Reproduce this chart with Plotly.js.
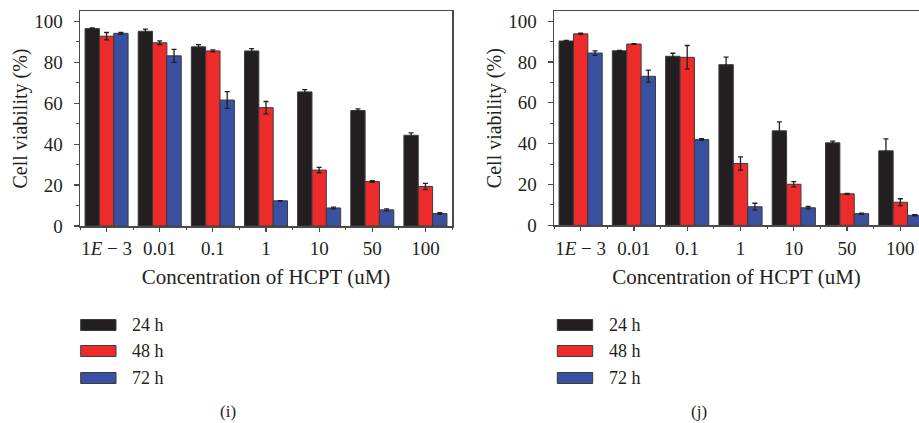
<!DOCTYPE html>
<html>
<head>
<meta charset="utf-8">
<script src="https://cdn.plot.ly/plotly-3.0.1.min.js"></script>
<style>html,body{margin:0;padding:0;background:#fff;}#chart{width:919px;height:423px;}</style>
</head>
<body>
<div id="chart"></div>
<script>
// ---- data ----
const categories = ['1E-3', '0.01', '0.1', '1', '10', '50', '100'];
const tickLabels = ['1<i>E</i> − 3', '0.01', '0.1', '1', '10', '50', '100'];
const seriesNames = ['24 h', '48 h', '72 h'];
const panelLabels = ['(i)', '(j)'];

// panel (i)
const i24 = [96.4, 95.1, 87.5, 85.5, 65.5, 56.4, 44.3];
const i24err = [0.3, 1.0, 1.1, 1.1, 1.1, 0.8, 1.2];
const i48 = [92.7, 89.5, 85.5, 57.8, 27.3, 21.7, 19.3];
const i48err = [1.8, 0.9, 0.5, 3.0, 1.3, 0.4, 1.5];
const i72 = [94.1, 83.1, 61.5, 12.3, 8.8, 7.9, 6.1];
const i72err = [0.4, 3.2, 4.1, 0.1, 0.4, 0.5, 0.4];

// panel (j)
const j24 = [90.3, 85.5, 82.8, 78.7, 46.3, 40.4, 36.5];
const j24err = [0.3, 0.2, 1.5, 3.7, 4.4, 0.8, 5.8];
const j48 = [93.8, 88.8, 82.3, 30.3, 20.1, 15.4, 11.3];
const j48err = [0.3, 0.2, 5.8, 3.2, 1.3, 0.2, 1.7];
const j72 = [84.4, 73.0, 42.0, 9.1, 8.6, 5.7, 4.9];
const j72err = [1.1, 3.0, 0.4, 1.7, 0.6, 0.3, 0.3];

// ---- styles ----
const colors = ['#231f20', '#ee2b2b', '#3a50a0'];
const FONT = 'Liberation Serif, Times New Roman, serif';
const TXT = '#231f20';
const AX = '#4a4a4a';

const xIdx = categories.map((c, k) => k);

function barTrace(vals, errs, k, xa, ya) {
  return {
    type: 'bar', x: xIdx, y: vals, name: seriesNames[k],
    xaxis: xa, yaxis: ya, showlegend: false,
    marker: {color: colors[k], line: {color: '#3b3b3b', width: 1}},
    error_y: {type: 'data', array: errs, visible: true, color: '#231f20', thickness: 1.3, width: 2.5}
  };
}

const data = [
  barTrace(i24, i24err, 0, 'x', 'y'),
  barTrace(i48, i48err, 1, 'x', 'y'),
  barTrace(i72, i72err, 2, 'x', 'y'),
  barTrace(j24, j24err, 0, 'x2', 'y2'),
  barTrace(j48, j48err, 1, 'x2', 'y2'),
  barTrace(j72, j72err, 2, 'x2', 'y2')
];

// margins / pixel helpers
const ML = 80, MT = 11, MR = 0, MB = 197, W = 919, H = 423;
const PW = W - ML - MR, PH = H - MT - MB;
const px = v => (v - ML) / PW;
const py = v => (H - MB - v) / PH;

function xAxis(domain, range, mirror) {
  return {
    domain: domain, range: range, anchor: mirror.anchor,
    tickmode: 'array', tickvals: xIdx, ticktext: tickLabels,
    ticks: 'outside', ticklen: 4, tickwidth: 1.2, tickcolor: AX,
    showline: true, linecolor: AX, linewidth: 1.5, mirror: mirror.m,
    showgrid: false, zeroline: false,
    tickfont: {family: FONT, size: 19, color: TXT},
    ticklabelstandoff: 1,
    minor: {tickmode: 'linear', tick0: 0.5, dtick: 1, ticks: 'outside', ticklen: 2, tickcolor: AX, tickwidth: 1},
    title: {text: 'Concentration of HCPT (uM)', font: {family: FONT, size: 21, color: TXT}, standoff: 11},
    fixedrange: true
  };
}
function yAxis(anchor, mirror, domain) {
  return {
    anchor: anchor, range: [0, 105], domain: domain,
    tickmode: 'linear', tick0: 0, dtick: 20,
    ticks: 'outside', ticklen: 5, tickwidth: 1.2, tickcolor: AX,
    showline: true, linecolor: AX, linewidth: 1.5, mirror: mirror,
    showgrid: false, zeroline: false,
    tickfont: {family: FONT, size: 19, color: TXT},
    ticklabelstandoff: 7,
    minor: {dtick: 10, ticks: 'outside', ticklen: 3, tickcolor: AX, tickwidth: 1},
    title: {text: 'Cell viability (%)', font: {family: FONT, size: 20, color: TXT}, standoff: 1},
    fixedrange: true
  };
}

const shapes = [];
const annotations = [];
const legendX = [[80.7, 116, 130], [557.3, 592.7, 606.7]];
const legendY = [325, 351, 378];
legendX.forEach((lx) => {
  seriesNames.forEach((nm, k) => {
    shapes.push({type: 'rect', xref: 'paper', yref: 'paper',
      x0: px(lx[0]), x1: px(lx[1]), y0: py(legendY[k] + 5.5), y1: py(legendY[k] - 5.5),
      fillcolor: colors[k], line: {color: '#3b3b3b', width: 1}});
    annotations.push({xref: 'paper', yref: 'paper', x: px(lx[2]), y: py(legendY[k]),
      xanchor: 'left', yanchor: 'middle', showarrow: false, text: nm,
      font: {family: FONT, size: 18, color: TXT}});
  });
});
annotations.push({xref: 'paper', yref: 'paper', x: px(228), y: py(412), xanchor: 'center', yanchor: 'middle',
  showarrow: false, text: panelLabels[0], font: {family: FONT, size: 17, color: TXT}});
annotations.push({xref: 'paper', yref: 'paper', x: px(698.5), y: py(412), xanchor: 'center', yanchor: 'middle',
  showarrow: false, text: panelLabels[1], font: {family: FONT, size: 17, color: TXT}});

const layout = {
  width: W, height: H,
  margin: {l: ML, r: MR, t: MT, b: MB, pad: 0},
  paper_bgcolor: '#ffffff', plot_bgcolor: '#ffffff',
  barmode: 'group', bargap: 0.19, bargroupgap: 0,
  showlegend: false,
  xaxis: xAxis([0, px(452)], [-0.5, 6.5], {anchor: 'y', m: true}),
  yaxis: yAxis('x', true, [0, 1]),
  xaxis2: xAxis([px(554), 1], [-0.5, 6.35], {anchor: 'y2', m: true}),
  yaxis2: yAxis('x2', false, [py(225.3), py(9.3)]),
  shapes: shapes,
  annotations: annotations
};

Plotly.newPlot('chart', data, layout, {displayModeBar: false, staticPlot: true});
</script>
</body>
</html>
